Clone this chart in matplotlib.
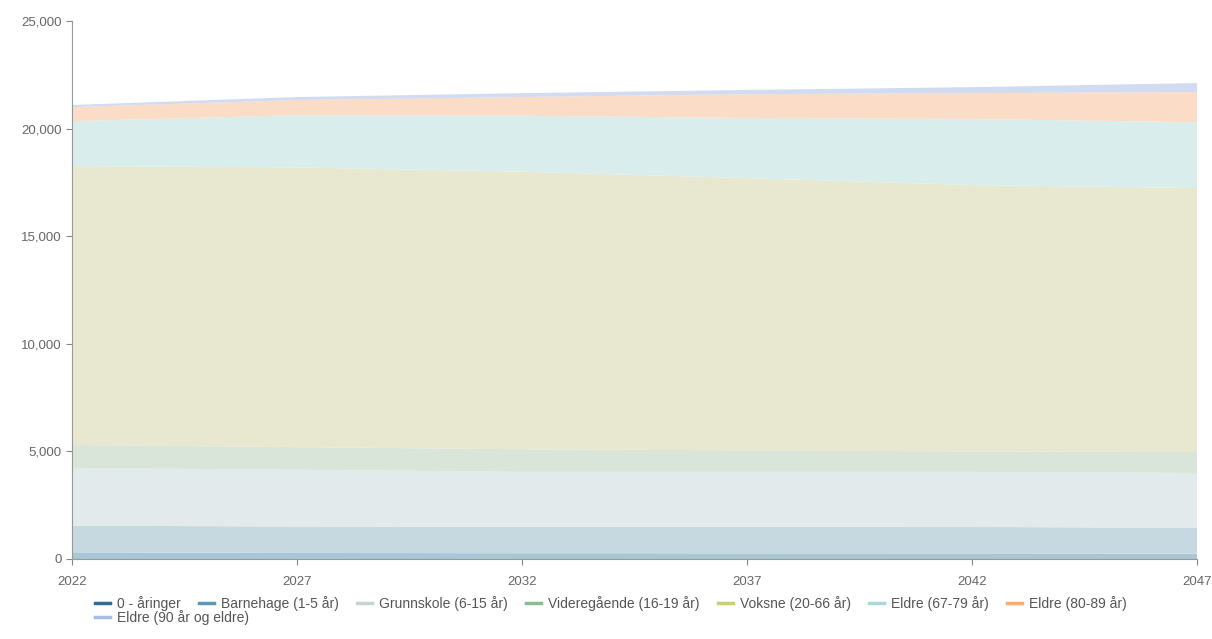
import numpy as np
import matplotlib.pyplot as plt
from matplotlib.lines import Line2D
from matplotlib.ticker import FuncFormatter

plt.rcParams['font.family'] = ['Liberation Sans', 'DejaVu Sans']

years = [2022, 2027, 2032, 2037, 2042, 2047]
labels = ["0 - åringer", "Barnehage (1-5 år)", "Grunnskole (6-15 år)",
          "Videregående (16-19 år)", "Voksne (20-66 år)", "Eldre (67-79 år)",
          "Eldre (80-89 år)", "Eldre (90 år og eldre)"]

aar0 = [310, 280, 270, 265, 260, 250]
barnehage = [1240, 1230, 1230, 1235, 1230, 1200]
grunnskole = [2680, 2640, 2550, 2550, 2560, 2550]
videregaende = [1070, 1050, 1050, 1000, 950, 970]
voksne = [12960, 13000, 12900, 12650, 12380, 12270]
eldre67 = [2090, 2430, 2600, 2800, 3070, 3060]
eldre80 = [650, 700, 870, 1100, 1200, 1400]
eldre90 = [100, 140, 180, 200, 280, 420]

line_colors = ["#2e6f8e", "#5f97b5", "#c7d3d6", "#86bf8f", "#c9cf78",
               "#a6dad6", "#f0b07e", "#a6bde6"]
fill_colors = ["#a9c6d4", "#c6d9e0", "#e2eaec", "#d8e5d8", "#e8e7cf",
               "#d9eeec", "#fbdcc7", "#d2dcf0"]

fig = plt.figure(figsize=(12.12, 6.39), dpi=100)
ax = fig.add_axes([0.0594, 0.1252, 0.9282, 0.8418])

ax.stackplot(years, aar0, barnehage, grunnskole, videregaende, voksne,
             eldre67, eldre80, eldre90, colors=fill_colors, linewidth=0)

ax.set_xlim(2022, 2047)
ax.set_ylim(0, 25000)
ax.set_xticks(years)
ax.set_yticks([0, 5000, 10000, 15000, 20000, 25000])
ax.yaxis.set_major_formatter(FuncFormatter(lambda v, p: f"{int(v):,}"))
ax.tick_params(colors="#888888", labelcolor="#666666", labelsize=9.5, length=4)
ax.tick_params(axis="x", pad=8)
for s in ["top", "right"]:
    ax.spines[s].set_visible(False)
for s in ["left", "bottom"]:
    ax.spines[s].set_color("#999999")

handles = [Line2D([], [], color=c, lw=2.5) for c in line_colors]
leg1 = fig.legend(handles[:7], labels[:7], ncol=7, loc="upper left",
                  bbox_to_anchor=(0.078, 0.068), frameon=False, fontsize=10,
                  handlelength=1.1, handletextpad=0.5, columnspacing=1.3,
                  borderaxespad=0, borderpad=0, labelcolor="#555555")
leg2 = fig.legend(handles[7:], labels[7:], loc="upper left",
                  bbox_to_anchor=(0.078, 0.046), frameon=False, fontsize=10,
                  handlelength=1.1, handletextpad=0.5,
                  borderaxespad=0, borderpad=0, labelcolor="#555555")

plt.savefig("out.png", dpi=100)
